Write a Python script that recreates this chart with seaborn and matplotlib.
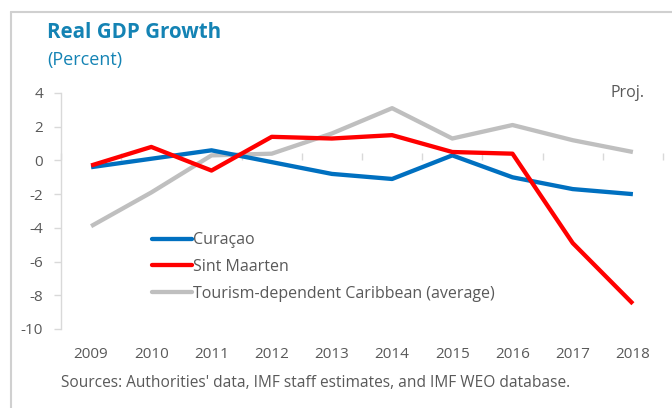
import matplotlib
matplotlib.use("Agg")
import matplotlib.pyplot as plt
from matplotlib.lines import Line2D
import seaborn as sns
import pandas as pd

years = ["2009", "2010", "2011", "2012", "2013", "2014", "2015", "2016", "2017", "2018"]
curacao = [-0.4, 0.1, 0.6, -0.1, -0.8, -1.1, 0.3, -1.0, -1.7, -2.0]
sint_maarten = [-0.3, 0.8, -0.6, 1.4, 1.3, 1.5, 0.5, 0.4, -4.9, -8.5]
tourism = [-3.9, -1.9, 0.3, 0.4, 1.6, 3.1, 1.3, 2.1, 1.2, 0.5]
series_names = ["Curaçao", "Sint Maarten", "Tourism-dependent Caribbean (average)"]
yticks = [4, 2, 0, -2, -4, -6, -8, -10]

df = pd.DataFrame({
    "year": years * 3,
    "value": curacao + sint_maarten + tourism,
    "series": [series_names[0]] * 10 + [series_names[1]] * 10 + [series_names[2]] * 10,
})

sns.set_theme(style="white")
plt.rcParams["font.family"] = ["Open Sans", "DejaVu Sans"]

grey_txt = "#595959"
teal = "#1483B4"
axis_grey = "#D9D9D9"

fig = plt.figure(figsize=(6.72, 4.08), dpi=100)
ax = fig.add_axes([61 / 672, 1 - 329 / 408, 602 / 672, 236 / 408])

palette = {series_names[0]: "#0070C0", series_names[1]: "#FF0000", series_names[2]: "#BFBFBF"}
sns.lineplot(data=df, x="year", y="value", hue="series", palette=palette,
             linewidth=3.1, ax=ax, sort=False, legend=True)
for ln, z in zip(ax.lines[:3], [3, 4, 2]):
    ln.set_zorder(z)
    ln.set_solid_capstyle("butt")

ax.set_xlim(-0.5, 9.5)
ax.set_ylim(-10, 4)
ax.set_yticks(yticks)
ax.set_yticklabels([str(v) for v in yticks])
ax.set_xticks(range(len(years)))
ax.set_xticklabels(years)
ax.set_xlabel("")
ax.set_ylabel("")

for s in ["top", "right", "bottom"]:
    ax.spines[s].set_visible(False)
ax.spines["left"].set_color(axis_grey)
ax.spines["left"].set_linewidth(1)
ax.tick_params(axis="y", left=True, length=5, width=1, color=axis_grey,
               labelsize=11, labelcolor=grey_txt, pad=8)
ax.tick_params(axis="x", bottom=False, length=0, labelsize=11, labelcolor=grey_txt, pad=13)

# zero axis line with category-boundary ticks
loc0 = (0 - (-10)) / (4 - (-10))
sec = ax.secondary_xaxis(loc0)
sec.set_xticks([i - 0.5 for i in range(len(years) + 1)])
sec.set_xticklabels([])
sec.tick_params(axis="x", length=5, width=1, color=axis_grey, direction="out")
sec.spines["bottom"].set_color(axis_grey)
sec.spines["bottom"].set_linewidth(1)
for s in ["top", "left", "right"]:
    sec.spines[s].set_visible(False)

leg = ax.legend(loc="center left", bbox_to_anchor=((152 - 61) / 602, (329 - 267) / 236),
                frameon=False, fontsize=11.5, handlelength=2.5, handletextpad=0.08,
                labelspacing=0.68, borderaxespad=0, borderpad=0)
for t in leg.get_texts():
    t.set_color(grey_txt)
for h in leg.get_lines():
    h.set_linewidth(3.1)

ax.text(0.97, 1.0, "Proj.", transform=ax.transAxes, ha="right", va="center",
        fontsize=11.5, color=grey_txt)

fig.text(47 / 672, 1 - 33 / 408, "Real GDP Growth", fontsize=14.8, fontweight="bold",
         color=teal, ha="left", va="center")
fig.text(47 / 672, 1 - 60 / 408, "(Percent)", fontsize=13, color=teal, ha="left", va="center")
fig.text(61 / 672, 1 - 383 / 408,
         "Sources: Authorities' data, IMF staff estimates, and IMF WEO database.",
         fontsize=11.2, color=grey_txt, ha="left", va="center")

# panel border (left and top edges)
fig.add_artist(Line2D([10.5 / 672, 10.5 / 672], [0, 1 - 12 / 408], transform=fig.transFigure,
                      color="#D0D0D0", linewidth=1.5))
fig.add_artist(Line2D([10.5 / 672, 1], [1 - 12 / 408, 1 - 12 / 408], transform=fig.transFigure,
                      color="#D0D0D0", linewidth=1.5))

fig.savefig("out.png", dpi=100)
